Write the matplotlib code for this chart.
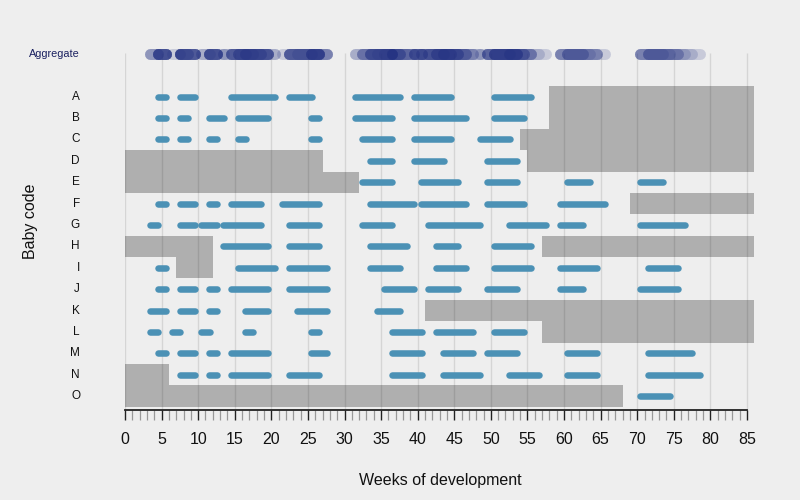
import matplotlib
matplotlib.use("Agg")
import matplotlib.pyplot as plt
from matplotlib.ticker import FixedLocator
import matplotlib.transforms as mtransforms

plt.rcParams['font.family'] = ['Liberation Sans', 'DejaVu Sans']

# ---------------- data ----------------
babies = ["A", "B", "C", "D", "E", "F", "G", "H", "I", "J", "K", "L", "M", "N", "O"]

# observed week ranges (start week, end week) per baby
segments = {
    "A": [(4, 6), (7, 10), (14, 21), (22, 26), (31, 38), (39, 45), (50, 56)],
    "B": [(4, 6), (7, 9), (11, 14), (15, 20), (25, 27), (31, 37), (39, 47), (50, 55)],
    "C": [(4, 6), (7, 9), (11, 13), (15, 17), (25, 27), (32, 37), (39, 45), (48, 53)],
    "D": [(33, 37), (39, 44), (49, 54)],
    "E": [(32, 37), (40, 46), (49, 54), (60, 64), (70, 74)],
    "F": [(4, 6), (7, 10), (11, 13), (14, 19), (21, 27), (33, 40), (40, 47), (49, 55), (59, 66)],
    "G": [(3, 5), (7, 10), (10, 13), (13, 19), (22, 27), (32, 37), (41, 49), (52, 58), (59, 63), (70, 77)],
    "H": [(13, 20), (22, 27), (33, 39), (42, 46), (50, 56)],
    "I": [(4, 6), (15, 21), (22, 28), (33, 38), (42, 47), (50, 56), (59, 65), (71, 76)],
    "J": [(4, 6), (7, 10), (11, 13), (14, 20), (22, 28), (35, 40), (41, 46), (49, 54), (59, 63), (70, 76)],
    "K": [(3, 6), (7, 10), (11, 13), (16, 20), (23, 28), (34, 38)],
    "L": [(3, 5), (6, 8), (10, 12), (16, 18), (25, 27), (36, 41), (42, 48), (50, 55)],
    "M": [(4, 6), (7, 10), (11, 13), (14, 20), (25, 28), (36, 41), (43, 48), (49, 54), (60, 65), (71, 78)],
    "N": [(7, 10), (11, 13), (14, 20), (22, 27), (36, 41), (43, 49), (52, 57), (60, 65), (71, 79)],
    "O": [(70, 75)],
}

# periods outside observation (start week, end week)
missing = {
    "A": [(58, 86)],
    "B": [(58, 86)],
    "C": [(54, 86)],
    "D": [(0, 27), (55, 86)],
    "E": [(0, 32)],
    "F": [(69, 86)],
    "H": [(0, 12), (57, 86)],
    "I": [(7, 12)],
    "K": [(41, 86)],
    "L": [(57, 86)],
    "N": [(0, 6)],
    "O": [(0, 68)],
}

x_ticks = list(range(0, 86, 5))
x_minor = list(range(0, 86))

# ---------------- style ----------------
BG = "#eeeeee"
SEG_COLOR = "#4b91b5"
AGG_COLOR = "#1c2b7f"
GRAY = "#afafaf"
CAP = 0.45          # shrink so round caps end on the week boundary
AGG_CAP = 0.45

fig = plt.figure(figsize=(8, 5), dpi=100, facecolor=BG)
ax = fig.add_axes([125 / 800, 90.5 / 500, 630 / 800, 376.9 / 500])
ax.set_facecolor(BG)

rows = {b: i + 2 for i, b in enumerate(babies)}
agg_row = 0

# gray blocks
for b, spans in missing.items():
    for s, e in spans:
        ax.barh(rows[b], e - s, left=s, height=1.0, color=GRAY, zorder=1, linewidth=0)

# gridlines
for t in x_ticks:
    ax.plot([t, t], [agg_row - 0.05, 16.63], color="black", alpha=0.10, lw=1.0, zorder=2,
            solid_capstyle="butt")

# baby segments + aggregate
for b in babies:
    for s, e in segments[b]:
        ax.plot([s + CAP, e - CAP], [rows[b], rows[b]], color=SEG_COLOR, lw=4.7,
                solid_capstyle="round", zorder=3)
        ax.plot([s + AGG_CAP, e - AGG_CAP], [agg_row, agg_row], color=AGG_COLOR,
                lw=7.9, alpha=0.18, solid_capstyle="round", zorder=3)

ax.set_xlim(0, 86.1)
ax.set_ylim(16.63, -1)

# axes cosmetics
for sp in ["top", "right", "left"]:
    ax.spines[sp].set_visible(False)
ax.spines["bottom"].set_bounds(0, 85)
ax.spines["bottom"].set_linewidth(1.3)
ax.spines["bottom"].set_color("#222222")
ax.set_yticks([])
ax.set_xticks(x_ticks)
ax.set_xticklabels([str(t) for t in x_ticks], fontsize=11.5, color="#111111")
ax.xaxis.set_minor_locator(FixedLocator([m for m in x_minor if m % 5]))
ax.tick_params(axis="x", which="major", direction="out", length=7.5, width=1.0,
               color="#222222", pad=9)
ax.tick_params(axis="x", which="minor", direction="out", length=7.5, width=0.9,
               color="#999999")

# row labels
trans = mtransforms.blended_transform_factory(fig.transFigure, ax.transData)
for b in babies:
    ax.text(80 / 800, rows[b], b, transform=trans, ha="right", va="center",
            fontsize=8.5, color="#111111")
ax.text(80 / 800, agg_row, "Aggregate", transform=trans, ha="right", va="center",
        fontsize=7.8, color="#1a2060")

fig.text(30 / 800, 1 - 221 / 500, "Baby code", rotation=90, ha="center", va="center",
         fontsize=11.5, color="#111111")
fig.text(440 / 800, 1 - 480 / 500, "Weeks of development", ha="center", va="center",
         fontsize=11.5, color="#111111")

fig.savefig("out.png", dpi=100, facecolor=BG)
